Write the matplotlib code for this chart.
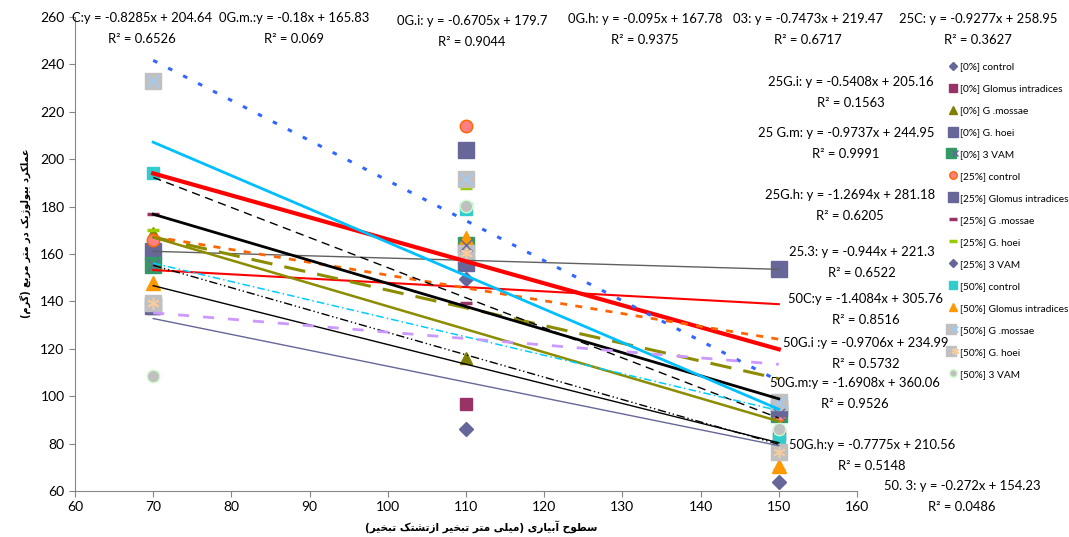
import numpy as np
import matplotlib
matplotlib.use("Agg")
import matplotlib.pyplot as plt
from matplotlib.legend_handler import HandlerTuple

plt.rcParams.update({
    "font.family": ["Lato", "DejaVu Sans"],
    "axes.spines.top": False,
    "axes.spines.right": False,
})

# ── data ──────────────────────────────────────────────
X = [70, 110, 150]

SERIES = [
    "[0%] control", "[0%] Glomus intradices", "[0%] G .mossae", "[0%] G. hoei", "[0%] 3 VAM",
    "[25%] control", "[25%] Glomus intradices", "[25%] G .mossae", "[25%] G. hoei", "[25%] 3 VAM",
    "[50%] control", "[50%] Glomus intradices", "[50%] G .mossae", "[50%] G. hoei", "[50%] 3 VAM",
]

Y_0 = [
    [160.4, 86.0, 94.1],     # control
    [137.4, 96.7, 83.7],     # Glomus intradices
    [169.0, 116.0, 153.1],   # G. mossae
    [161.3, 156.2, 153.8],   # G. hoei
    [155.4, 163.8, 92.6],    # 3 VAM
]
Y_25 = [
    [166.0, 214.0, 92.0],
    [138.1, 204.0, 94.9],
    [177.0, 139.5, 99.0],
    [170.0, 188.0, 69.0],
    [139.3, 149.3, 63.8],
]
Y_50 = [
    [194.2, 179.0, 81.5],
    [147.8, 166.8, 70.5],
    [233.0, 191.6, 97.7],
    [139.3, 160.4, 76.6],
    [108.5, 180.2, 86.2],
]

# trendline coefficients as printed on the chart
TREND_TAG = ["C:y = ", "0G.i: y = ", "0G.m.:y = ", "0G.h: y = ", "03: y = ",
             "25C: y = ", "25G.i: y = ", "25 G.m: y = ", "25G.h: y = ", "25.3: y = ",
             "50C:y = ", "50G.i :y = ", "50G.m:y = ", "50G.h:y = ", "50. 3: y = "]
SLOPE = [-0.8285, -0.6705, -0.18, -0.095, -0.7473,
         -0.9277, -0.5408, -0.9737, -1.2694, -0.944,
         -1.4084, -0.9706, -1.6908, -0.7775, -0.272]
INTERCEPT = [204.64, 179.7, 165.83, 167.78, 219.47,
             258.95, 205.16, 244.95, 281.18, 221.3,
             305.76, 234.99, 360.06, 210.56, 154.23]
R2 = ["0.6526", "0.9044", "0.069", "0.9375", "0.6717",
      "0.3627", "0.1563", "0.9991", "0.6205", "0.6522",
      "0.8516", "0.5732", "0.9526", "0.5148", "0.0486"]

YLABEL = "عملکرد بیولوژیک در متر مربع (گرم)"
XLABEL = "سطوح آبیاری (میلی متر تبخیر ازتشتک تبخیر)"

# ── styles ────────────────────────────────────────────
# (marker, face, edge, size, overlay marker, overlay color)
MARK = [
    ("D", "#666699", "#666699", 7, None, None),
    ("s", "#993366", "#993366", 9, None, None),
    ("^", "#808000", "#808000", 9, None, None),
    ("s", "#666699", "#666699", 12, None, None),
    ("s", "#339966", "#339966", 12, "x", "#666699"),
    ("o", "#FF8080", "#FF6600", 9, None, None),
    ("s", "#666699", "#666699", 12, None, None),
    ("_", "#993366", "#993366", 9, None, None),
    ("_", "#99CC00", "#99CC00", 9, None, None),
    ("D", "#666699", "#666699", 7, None, None),
    ("s", "#33CCCC", "#33CCCC", 9, None, None),
    ("^", "#FF9900", "#FF9900", 10, None, None),
    ("s", "#C0C0C0", "#C0C0C0", 12, "x", "#99CCFF"),
    ("s", "#C0C0C0", "#C0C0C0", 12, (6, 2, 0), "#FFCC99"),
    ("o", "#C0C0C0", "#CCFFCC", 9, None, None),
]
# (color, width, dashes or None)
TREND = [
    ("#000000", 1.0, None),
    ("#666699", 1.0, None),
    ("#FF0000", 1.5, None),
    ("#606060", 1.0, None),
    ("#8C8C00", 2.2, (7, 4)),
    ("#FF0000", 3.0, None),
    ("#FF6600", 2.0, (2.5, 3)),
    ("#000000", 2.0, None),
    ("#000000", 1.0, (6, 4)),
    ("#000000", 1.0, (6, 2, 1, 2, 1, 2)),
    ("#00BFFF", 2.0, None),
    ("#8C8C00", 1.8, None),
    ("#3366FF", 2.2, (1.5, 4)),
    ("#00CCFF", 1.1, (5, 2, 1, 2)),
    ("#CC99FF", 2.0, (4, 5)),
]
# label block: centre x (px), first line y (px)
LABEL_POS = [(142, 18), (472, 21), (294, 18), (645, 19), (808, 19),
             (978, 19), (851, 82), (846, 133), (850, 195), (862, 252),
             (866, 299), (866, 343), (855, 383), (872, 445), (962, 486)]


# ── simple Persian shaping for matplotlib ─────────────
FORMS = {  # isolated, final, initial, medial
    "ا": ("\uFE8D", "\uFE8E", None, None),
    "آ": ("\uFE81", "\uFE82", None, None),
    "د": ("\uFEA9", "\uFEAA", None, None),
    "ر": ("\uFEAD", "\uFEAE", None, None),
    "ز": ("\uFEAF", "\uFEB0", None, None),
    "ژ": ("\uFB8A", "\uFB8B", None, None),
    "و": ("\uFEED", "\uFEEE", None, None),
    "ب": ("\uFE8F", "\uFE90", "\uFE91", "\uFE92"),
    "ت": ("\uFE95", "\uFE96", "\uFE97", "\uFE98"),
    "ح": ("\uFEA1", "\uFEA2", "\uFEA3", "\uFEA4"),
    "خ": ("\uFEA5", "\uFEA6", "\uFEA7", "\uFEA8"),
    "س": ("\uFEB1", "\uFEB2", "\uFEB3", "\uFEB4"),
    "ش": ("\uFEB5", "\uFEB6", "\uFEB7", "\uFEB8"),
    "ط": ("\uFEC1", "\uFEC2", "\uFEC3", "\uFEC4"),
    "ع": ("\uFEC9", "\uFECA", "\uFECB", "\uFECC"),
    "ک": ("\uFB8E", "\uFB8F", "\uFB90", "\uFB91"),
    "گ": ("\uFB92", "\uFB93", "\uFB94", "\uFB95"),
    "ل": ("\uFEDD", "\uFEDE", "\uFEDF", "\uFEE0"),
    "م": ("\uFEE1", "\uFEE2", "\uFEE3", "\uFEE4"),
    "ی": ("\uFBFC", "\uFBFD", "\uFBFE", "\uFBFF"),
}


def shape(text):
    out = []
    for i, ch in enumerate(text):
        if ch not in FORMS:
            out.append(ch)
            continue
        dual = FORMS[ch][2] is not None
        prev = i > 0 and text[i - 1] in FORMS and FORMS[text[i - 1]][2] is not None
        nxt = dual and i + 1 < len(text) and text[i + 1] in FORMS
        if prev and nxt:
            out.append(FORMS[ch][3])
        elif prev:
            out.append(FORMS[ch][1])
        elif nxt:
            out.append(FORMS[ch][2])
        else:
            out.append(FORMS[ch][0])
    vis = "".join(reversed(out))
    return vis.translate(str.maketrans("()", ")("))


# ── plot ──────────────────────────────────────────────
W, H = 1069, 537
fig = plt.figure(figsize=(W / 100, H / 100), dpi=100)
ax = fig.add_axes([75 / W, 1 - 491 / H, (857 - 75) / W, (491 - 17) / H])

all_y = Y_0 + Y_25 + Y_50
handles = []
for i, ys in enumerate(all_y):
    m, fc, ec, ms, om, oc = MARK[i]
    mew = 2.5 if m == "_" else 1.0
    h1, = ax.plot(X, ys, linestyle="none", marker=m, markersize=ms,
                  markerfacecolor=fc, markeredgecolor=ec, markeredgewidth=mew, zorder=3)
    if om is not None:
        h2, = ax.plot(X, ys, linestyle="none", marker=om, markersize=ms * 0.7,
                      color=oc, markeredgewidth=1.0, zorder=3.1)
        handles.append((h1, h2))
    else:
        handles.append(h1)

xs = np.array([X[0], X[-1]])
for i in range(len(SLOPE)):
    col, lw, dash = TREND[i]
    ln, = ax.plot(xs, SLOPE[i] * xs + INTERCEPT[i], color=col, linewidth=lw, zorder=4)
    if dash is not None:
        ln.set_dashes(dash)

for i in range(len(SLOPE)):
    px, py = LABEL_POS[i]
    fig.text(px / W, 1 - py / H, f"{TREND_TAG[i]}{SLOPE[i]}x + {INTERCEPT[i]}",
             ha="center", va="center", fontsize=9.4)
    fig.text(px / W, 1 - (py + 21) / H, f"R² = {R2[i]}",
             ha="center", va="center", fontsize=9.4)

ax.set_xlim(60, 160)
ax.set_ylim(60, 260)
ax.set_xticks(np.arange(60, 161, 10))
ax.set_yticks(np.arange(60, 261, 20))
ax.tick_params(labelsize=10, length=4, color="#868686")
for s in ("left", "bottom"):
    ax.spines[s].set_color("#868686")

fig.text(25 / W, 1 - 233 / H, shape(YLABEL), rotation=90, ha="center", va="center",
         fontsize=7.0, fontweight="bold", family="DejaVu Sans")
fig.text(481 / W, 1 - 527 / H, shape(XLABEL), ha="center", va="center",
         fontsize=7.6, fontweight="bold", family="DejaVu Sans")

leg = fig.legend(handles, SERIES, loc="upper left", bbox_to_anchor=(945 / W, 1 - 58 / H),
                 frameon=False, fontsize=7.3, markerscale=0.6, handlelength=0.8,
                 handletextpad=0.3, labelspacing=1.27, borderaxespad=0,
                 handler_map={tuple: HandlerTuple(ndivide=None, pad=0)})

fig.savefig("out.png", dpi=100)
